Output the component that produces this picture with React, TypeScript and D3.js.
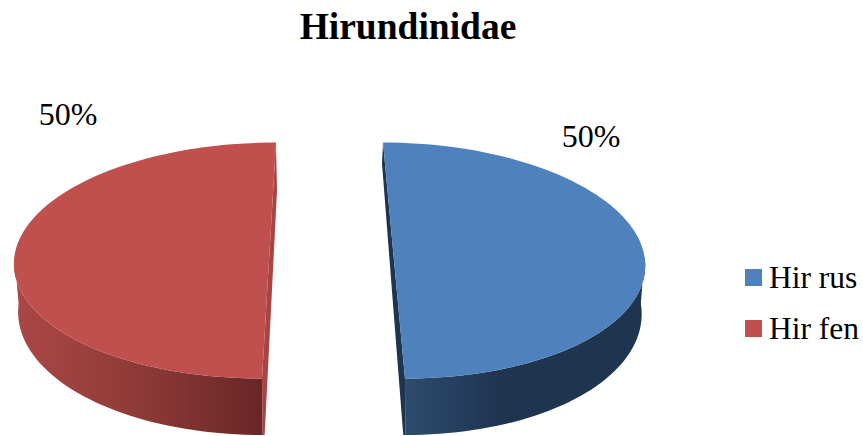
import React from "react";
import * as d3 from "d3";

const categories = ["Hir rus", "Hir fen"];
const shares = [50, 50];
const labels = ["50%", "50%"];
const chartTitle = "Hirundinidae";

const W = 863, H = 436;
const serif = "'Liberation Serif', 'Times New Roman', serif";
const topColor = d3.scaleOrdinal<string, string>().domain(categories).range(["#4f81bd", "#c0504d"]);
const sliverColor = d3.scaleOrdinal<string, string>().domain(categories).range(["#1f344f", "#a94442"]);

const CX = 331.5, EXPLODE = 62.5, CY = 260.5, RY = 118;
const BOTTOM_CY = 308, BOTTOM_RY = 127;
const geometry = (dir: number) =>
  dir > 0
    ? { rx: 251, shear: 11 / 118, bottomRx: 248, bottomShift: -5, sliverDrop: 21 }
    : { rx: 255, shear: 7 / 118, bottomRx: 252, bottomShift: 4, sliverDrop: 48 };

type Pt = [number, number];
const path = d3.line<Pt>().x(d => d[0]).y(d => d[1]);

export default function App() {
  const slices = d3.pie<number>().sort(null)(shares);
  const legendY = d3.scalePoint<string>().domain(categories).range([277.5, 328.5]);

  const marks = slices.map((s, i) => {
    const cat = categories[i];
    const dir = Math.sin((s.startAngle + s.endAngle) / 2) >= 0 ? 1 : -1;
    const g = geometry(dir);
    const cx = CX + dir * EXPLODE;
    const top = (a: number): Pt => {
      const y = CY - RY * Math.cos(a);
      return [cx + g.rx * Math.sin(a) + dir * g.shear * (y - CY), y];
    };
    const bottom = (a: number): Pt => {
      const y = BOTTOM_CY - BOTTOM_RY * Math.cos(a);
      return [cx + g.bottomShift + g.bottomRx * Math.sin(a) + dir * g.shear * (y - CY), y];
    };
    const step = (s.endAngle - s.startAngle) / 90;
    const angles = d3.range(s.startAngle, s.endAngle + step / 2, step);
    const topPts = angles.map(top);
    const first = top(s.startAngle), last = top(s.endAngle);
    const rimAngles = angles.filter(a => Math.cos(a) <= 0.05);
    const near = dir > 0 ? rimAngles : rimAngles.slice().reverse();
    const sidePts: Pt[] = [...near.map(top), ...near.slice().reverse().map(bottom)];
    const apexTop = dir > 0 ? first : last;
    const apexBottom = dir > 0 ? last : first;
    const corner = bottom(Math.PI);
    const sliver: Pt[] = [
      apexTop,
      [apexTop[0] - dir, apexTop[1] + g.sliverDrop],
      [corner[0] - dir * 2, corner[1]],
      corner,
      apexBottom,
    ];
    return { cat, topPts, sidePts, sliver };
  });

  return (
    <svg width={W} height={H} style={{ position: "absolute", left: 0, top: 0, background: "#fff" }}>
      <defs>
        <linearGradient id="side-hir-rus" gradientUnits="userSpaceOnUse" x1="405" x2="645" y1="0" y2="0">
          <stop offset="0" stopColor="#2d4b6e" />
          <stop offset="0.4" stopColor="#1f344f" />
          <stop offset="1" stopColor="#1f344f" />
        </linearGradient>
        <linearGradient id="side-hir-fen" gradientUnits="userSpaceOnUse" x1="14" x2="263" y1="0" y2="0">
          <stop offset="0" stopColor="#aa4846" />
          <stop offset="0.5" stopColor="#8f3a38" />
          <stop offset="1" stopColor="#672725" />
        </linearGradient>
      </defs>
      <text x={408} y={39} textAnchor="middle" fontFamily={serif} fontWeight="bold" fontSize={37.5} fill="#000">
        {chartTitle}
      </text>
      {marks.map(m => (
        <g key={m.cat}>
          <path d={path(m.sliver) + "Z"} fill={sliverColor(m.cat)} />
          <path d={path(m.sidePts) + "Z"} fill={`url(#side-${m.cat.toLowerCase().replace(" ", "-")})`} />
          <path d={path(m.topPts) + "Z"} fill={topColor(m.cat)} />
        </g>
      ))}
      <text x={591} y={147} textAnchor="middle" fontFamily={serif} fontSize={32} fill="#000">{labels[0]}</text>
      <text x={68} y={125} textAnchor="middle" fontFamily={serif} fontSize={32} fill="#000">{labels[1]}</text>
      {categories.map(c => (
        <g key={c}>
          <rect x={745} y={(legendY(c) ?? 0) - 8.5} width={17} height={17} fill={topColor(c)} />
          <text x={769} y={(legendY(c) ?? 0) + 10.5} fontFamily={serif} fontSize={31.5} fill="#000">{c}</text>
        </g>
      ))}
    </svg>
  );
}
